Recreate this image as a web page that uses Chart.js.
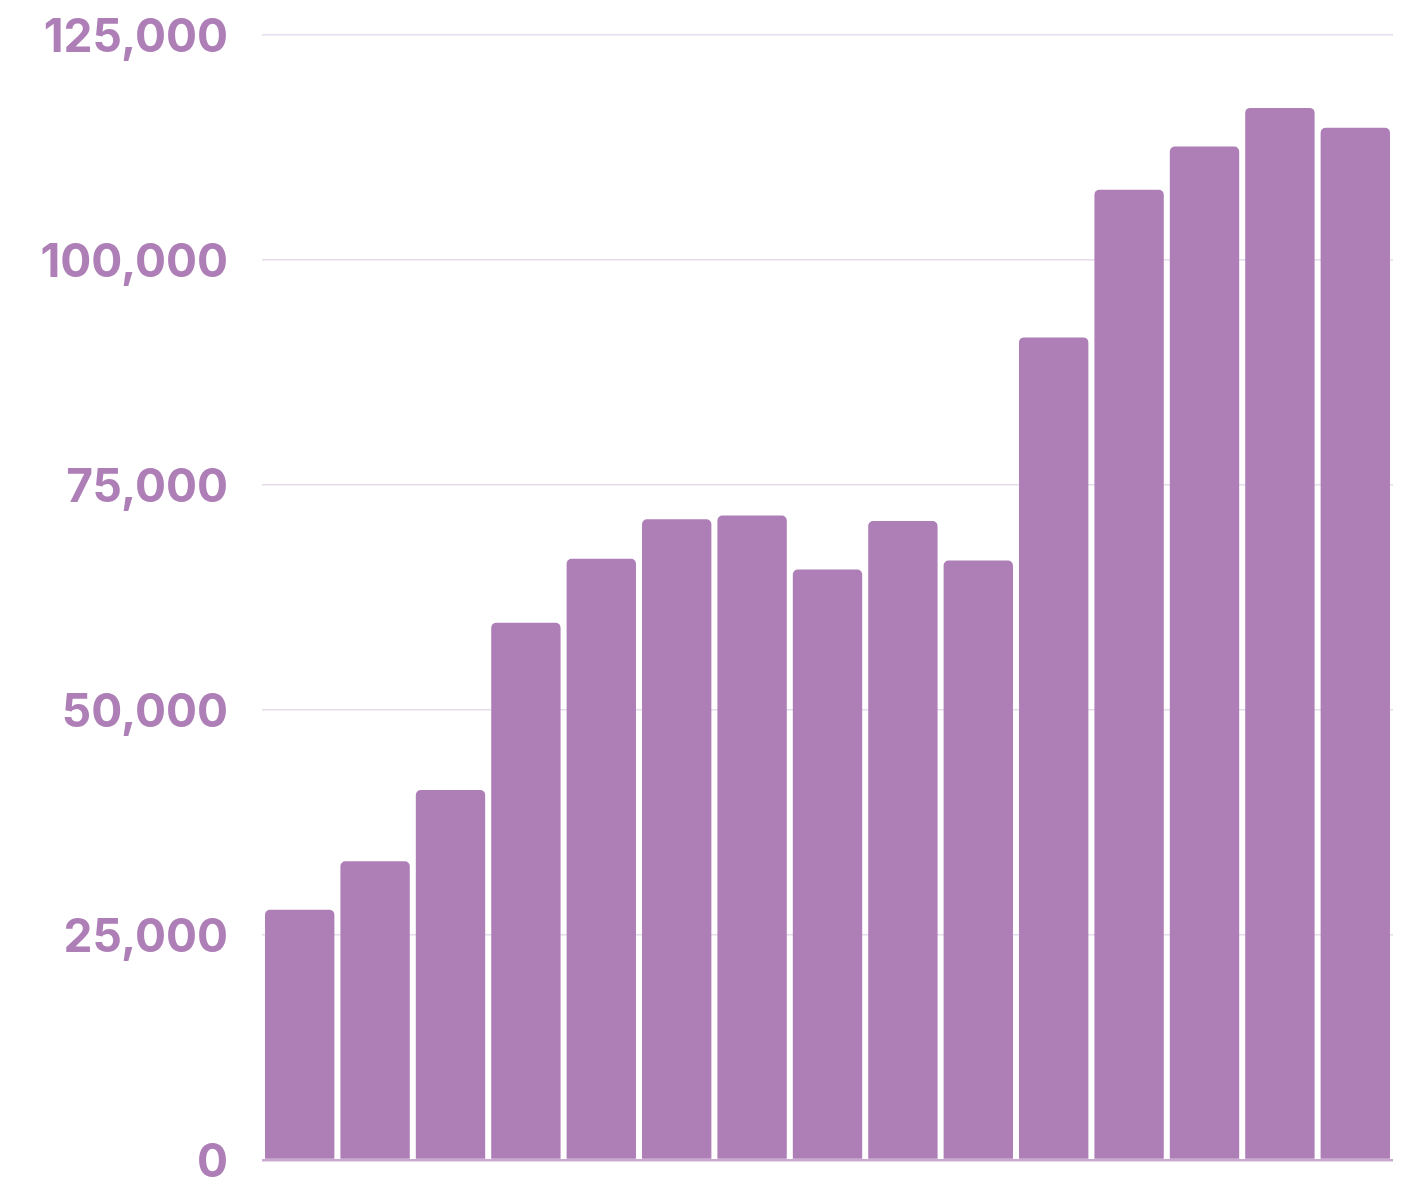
<!DOCTYPE html>
<html>
<head>
<meta charset="utf-8">
<script src="https://cdn.jsdelivr.net/npm/chart.js@4/dist/chart.umd.min.js"></script>
<style>
html,body{margin:0;padding:0;background:#fff;}
#wrap{width:1411px;height:1179px;position:relative;}
</style>
</head>
<body>
<div id="wrap"><canvas id="c" width="1411" height="1179"></canvas></div>
<script>
const categories = ['1','2','3','4','5','6','7','8','9','10','11','12','13','14','15'];
const values = [27800, 33200, 41100, 59700, 66800, 71200, 71600, 65600, 71000, 66600, 91400, 107800, 112600, 116900, 114700];
const yTicks = [0, 25000, 50000, 75000, 100000, 125000];

const purple = '#ae7fb7';
new Chart(document.getElementById('c'), {
  type: 'bar',
  data: {
    labels: categories,
    datasets: [{
      data: values,
      backgroundColor: purple,
      borderRadius: {topLeft: 5, topRight: 5, bottomLeft: 0, bottomRight: 0},
      borderSkipped: 'bottom',
      barPercentage: 0.92,
      categoryPercentage: 1.0
    }]
  },
  options: {
    responsive: false,
    animation: false,
    layout: {padding: {top: 35, right: 18, bottom: 19, left: 0}},
    plugins: {legend: {display: false}, tooltip: {enabled: false}},
    scales: {
      x: {
        display: false
      },
      y: {
        min: 0, max: 125000,
        afterBuildTicks: (axis) => { axis.ticks = yTicks.map(v => ({value: v})); },
        afterFit: (axis) => { axis.width = 262; },
        grid: {
          color: (ctx) => (ctx.tick && ctx.tick.value === 0) ? '#c9a9d0' : '#e6dcec',
          lineWidth: (ctx) => (ctx.tick && ctx.tick.value === 0) ? 2.5 : 1.5,
          drawTicks: true,
          tickLength: 34,
          tickColor: 'rgba(0,0,0,0)'
        },
        border: {display: false},
        ticks: {
          color: purple,
          padding: 0,
          labelOffset: 3,
          font: {family: 'Inter', size: 46, weight: 'bold', lineHeight: 0.3},
          callback: (v) => v.toLocaleString('en-US')
        }
      }
    }
  }
});
</script>
</body>
</html>
